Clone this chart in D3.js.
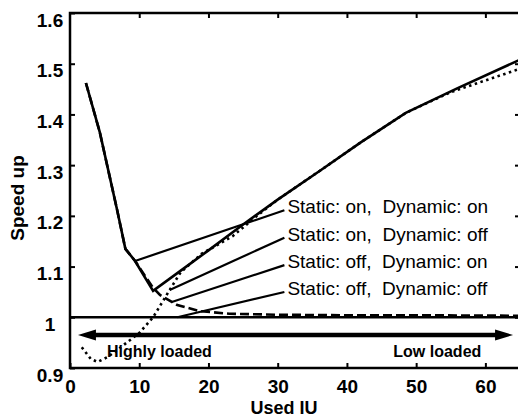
<!DOCTYPE html>
<html>
<head>
<meta charset="utf-8">
<script src="https://cdn.jsdelivr.net/npm/d3@7"></script>
<style>
body { margin: 0; background: #fff; }
svg { display: block; font-family: "Liberation Sans", Arial, sans-serif; }
</style>
</head>
<body>
<svg id="chart" width="518" height="418"></svg>
<script>
// Speed up vs used IU, four settings of static / dynamic
var onOnX = [2.3, 4.3, 6.8, 8, 9.4, 12, 16, 20, 25, 30, 36, 42, 48.5, 56, 65];
var onOnY = [1.462, 1.365, 1.212, 1.135, 1.111, 1.052, 1.092, 1.132, 1.183, 1.232, 1.288, 1.345, 1.403, 1.452, 1.508];

var onOffX = [1.7, 3, 4, 5.5, 8, 10, 12, 14.4, 16, 19, 23.5, 27, 30, 36, 42, 48.5, 55, 60, 65];
var onOffY = [0.941, 0.918, 0.912, 0.922, 0.948, 0.969, 1.0, 1.054, 1.089, 1.125, 1.16, 1.2, 1.232, 1.288, 1.345, 1.403, 1.444, 1.467, 1.49];

var offOnX = [2.3, 4.3, 6.8, 8, 9.4, 12, 13, 15.5, 18.8, 23, 30, 40, 50, 65];
var offOnY = [1.462, 1.365, 1.212, 1.135, 1.111, 1.058, 1.044, 1.024, 1.012, 1.007, 1.005, 1.004, 1.004, 1.003];

var offOffX = [0, 65];
var offOffY = [1, 1];

var xTicks = [0, 10, 20, 30, 40, 50, 60];
var yTicks = [0.9, 1, 1.1, 1.2, 1.3, 1.4, 1.5, 1.6];

var labelNames = ["Static: on,  Dynamic: on", "Static: on,  Dynamic: off",
                  "Static: off,  Dynamic: on", "Static: off,  Dynamic: off"];
var labelX = 31.4;
var labelY = [1.205, 1.151, 1.097, 1.044];
var leaderX = [9.4, 14.4, 14.7, 15.5];
var leaderY = [1.111, 1.054, 1.030, 1.0];

var arrowY = 0.965;
var arrowFrom = 1.15, arrowTo = 64.0;

var margin = {left: 70, top: 13, right: 520, bottom: 368};

var svg = d3.select("#chart");
svg.append("rect").attr("width", 518).attr("height", 418).attr("fill", "#fff");

var x = d3.scaleLinear().domain([0, 65]).range([margin.left, margin.right]);
var y = d3.scaleLinear().domain([0.9, 1.6]).range([margin.bottom, margin.top]);

// frame
svg.append("rect")
    .attr("x", margin.left)
    .attr("y", margin.top)
    .attr("width", margin.right - margin.left)
    .attr("height", margin.bottom - margin.top)
    .attr("fill", "none")
    .attr("stroke", "#000")
    .attr("stroke-width", 2.5);

// inward ticks on all four sides
var bottomAxis = svg.append("g")
    .attr("transform", "translate(0," + margin.bottom + ")")
    .call(d3.axisBottom(x).tickValues(xTicks).tickFormat(d3.format("d"))
        .tickSizeInner(-5).tickSizeOuter(0).tickPadding(12));
svg.append("g")
    .attr("transform", "translate(0," + margin.top + ")")
    .call(d3.axisTop(x).tickValues(xTicks.slice(1)).tickFormat("")
        .tickSizeInner(-5).tickSizeOuter(0));
var leftAxis = svg.append("g")
    .attr("transform", "translate(" + margin.left + ",0)")
    .call(d3.axisLeft(y).tickValues(yTicks).tickFormat(function(d) { return d === 1 ? "1" : d3.format(".1f")(d); })
        .tickSizeInner(-5).tickSizeOuter(0));
svg.append("g")
    .attr("transform", "translate(" + margin.right + ",0)")
    .call(d3.axisRight(y).tickValues(yTicks.slice(1, -1)).tickFormat("")
        .tickSizeInner(-5).tickSizeOuter(0));

svg.selectAll(".domain").remove();
svg.selectAll(".tick line").attr("stroke", "#000").attr("stroke-width", 2);

bottomAxis.selectAll("text")
    .attr("font-size", 19)
    .attr("font-weight", "bold")
    .attr("fill", "#000");
leftAxis.selectAll("text")
    .attr("x", -20)
    .attr("dy", "0.32em")
    .attr("y", 7)
    .attr("text-anchor", "middle")
    .attr("font-size", 19)
    .attr("font-weight", "bold")
    .attr("fill", "#000");

// axis titles
svg.append("text")
    .attr("transform", "translate(24,198) rotate(-90)")
    .attr("text-anchor", "middle")
    .attr("font-size", 19)
    .attr("font-weight", "bold")
    .text("Speed up");
svg.append("text")
    .attr("x", 284)
    .attr("y", 414)
    .attr("text-anchor", "middle")
    .attr("font-size", 18)
    .attr("font-weight", "bold")
    .text("Used IU");

// curves
var series = [
    {xs: offOffX, ys: offOffY, dash: null},
    {xs: offOnX, ys: offOnY, dash: "9,4"},
    {xs: onOffX, ys: onOffY, dash: "2.5,3.5"},
    {xs: onOnX, ys: onOnY, dash: null}
];

var line = d3.line()
    .x(function(d) { return x(d[0]); })
    .y(function(d) { return y(d[1]); });

series.forEach(function(s) {
    var pts = d3.zip(s.xs, s.ys);
    svg.append("path")
        .datum(pts)
        .attr("d", line)
        .attr("fill", "none")
        .attr("stroke", "#000")
        .attr("stroke-width", 2.6)
        .attr("stroke-dasharray", s.dash);
});

// labels with leader lines
labelNames.forEach(function(name, i) {
    svg.append("line")
        .attr("x1", x(leaderX[i]))
        .attr("y1", y(leaderY[i]))
        .attr("x2", x(labelX) - 3)
        .attr("y2", y(labelY[i]) - 3)
        .attr("stroke", "#000")
        .attr("stroke-width", 2.2);
    svg.append("text")
        .attr("x", x(labelX))
        .attr("y", y(labelY[i]))
        .attr("font-size", 19)
        .attr("xml:space", "preserve")
        .style("white-space", "pre")
        .text(name);
});

// load arrow
var ay = y(arrowY);
svg.append("line")
    .attr("x1", x(arrowFrom) + 12)
    .attr("x2", x(arrowTo) - 12)
    .attr("y1", ay)
    .attr("y2", ay)
    .attr("stroke", "#000")
    .attr("stroke-width", 4.5);
svg.append("path")
    .attr("d", "M" + x(arrowFrom) + "," + ay + "l18,-5.5l0,11z")
    .attr("fill", "#000");
svg.append("path")
    .attr("d", "M" + x(arrowTo) + "," + ay + "l-18,-5.5l0,11z")
    .attr("fill", "#000");

svg.append("text")
    .attr("x", x(5.34))
    .attr("y", 357)
    .attr("font-size", 16)
    .attr("font-weight", "bold")
    .text("Highly loaded");
svg.append("text")
    .attr("x", x(46.7))
    .attr("y", 357)
    .attr("font-size", 16)
    .attr("font-weight", "bold")
    .text("Low loaded");
</script>
</body>
</html>
